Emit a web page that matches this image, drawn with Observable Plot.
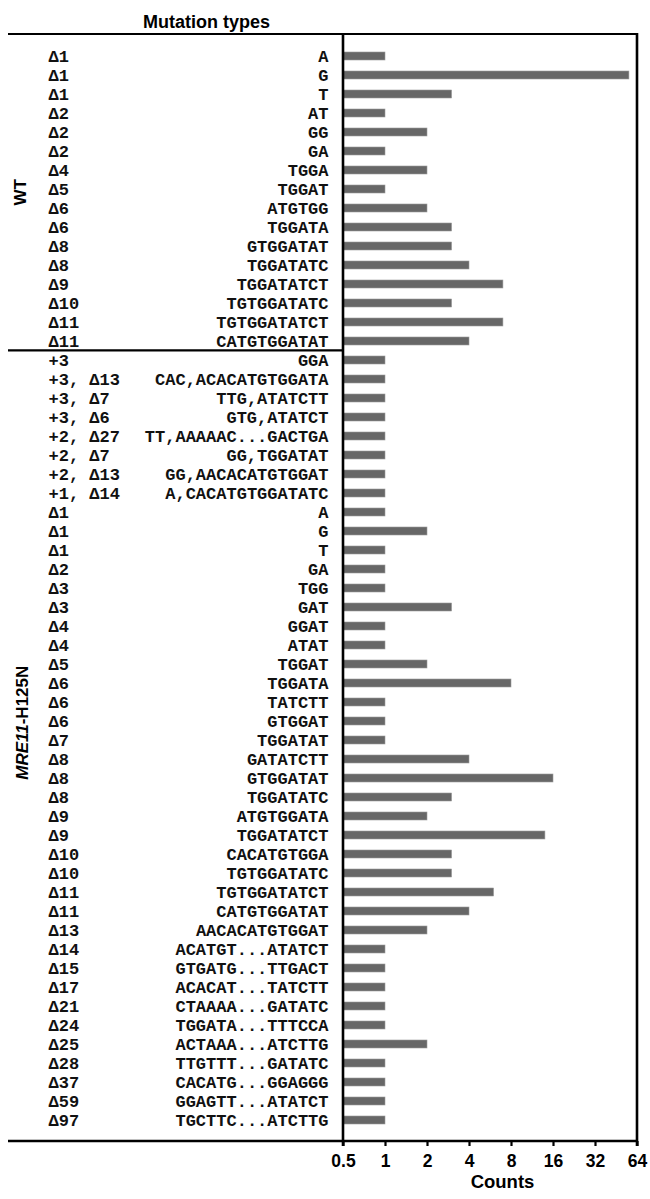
<!DOCTYPE html>
<html><head><meta charset="utf-8">
<script src="https://cdn.jsdelivr.net/npm/d3@7"></script>
<script src="https://cdn.jsdelivr.net/npm/@observablehq/plot@0.6"></script>
<style>
body{margin:0;background:#fff;}
#chart svg{display:block;}
g[aria-label="x-axis tick label"] text{font-family:"Liberation Sans",Arial,sans-serif;font-weight:bold;font-size:17.5px;fill:#000;}
</style></head><body><div id="chart"></div>
<script>
// ---- data ----
const wtMutations = ["Δ1","Δ1","Δ1","Δ2","Δ2","Δ2","Δ4","Δ5","Δ6","Δ6","Δ8","Δ8","Δ9","Δ10","Δ11","Δ11"];
const wtSequences = ["A","G","T","AT","GG","GA","TGGA","TGGAT","ATGTGG","TGGATA","GTGGATAT","TGGATATC","TGGATATCT","TGTGGATATC","TGTGGATATCT","CATGTGGATAT"];
const wtCounts = [1,56,3,1,2,1,2,1,2,3,3,4,7,3,7,4];

const mreMutations = ["+3","+3, Δ13","+3, Δ7","+3, Δ6","+2, Δ27","+2, Δ7","+2, Δ13","+1, Δ14",
  "Δ1","Δ1","Δ1","Δ2","Δ3","Δ3","Δ4","Δ4","Δ5","Δ6","Δ6","Δ6","Δ7","Δ8","Δ8","Δ8","Δ9","Δ9",
  "Δ10","Δ10","Δ11","Δ11","Δ13","Δ14","Δ15","Δ17","Δ21","Δ24","Δ25","Δ28","Δ37","Δ59","Δ97"];
const mreSequences = ["GGA","CAC,ACACATGTGGATA","TTG,ATATCTT","GTG,ATATCT","TT,AAAAAC...GACTGA","GG,TGGATAT","GG,AACACATGTGGAT","A,CACATGTGGATATC",
  "A","G","T","GA","TGG","GAT","GGAT","ATAT","TGGAT","TGGATA","TATCTT","GTGGAT","TGGATAT","GATATCTT","GTGGATAT","TGGATATC","ATGTGGATA","TGGATATCT",
  "CACATGTGGA","TGTGGATATC","TGTGGATATCT","CATGTGGATAT","AACACATGTGGAT","ACATGT...ATATCT","GTGATG...TTGACT","ACACAT...TATCTT","CTAAAA...GATATC","TGGATA...TTTCCA","ACTAAA...ATCTTG","TTGTTT...GATATC","CACATG...GGAGGG","GGAGTT...ATATCT","TGCTTC...ATCTTG"];
const mreCounts = [1,1,1,1,1,1,1,1,
  1,2,1,1,1,3,1,1,2,8,1,1,1,4,16,3,2,14,
  3,3,6,4,2,1,1,1,1,1,2,1,1,1,1];

const xTicks = [0.5,1,2,4,8,16,32,64];
const groupNames = ["WT","MRE11-H125N"];

// ---- table ----
const rows = [];
wtMutations.forEach((m,i)=>rows.push({group:groupNames[0],key:"WT-"+i,mutation:m,sequence:wtSequences[i],count:wtCounts[i]}));
mreMutations.forEach((m,i)=>rows.push({group:groupNames[1],key:"MRE-"+i,mutation:m,sequence:mreSequences[i],count:mreCounts[i]}));
const keys = rows.map(d=>d.key);
const PAD = 0.585;
const mono = "'Liberation Mono','DejaVu Sans Mono',monospace";
const sans = "'Liberation Sans',Arial,sans-serif";

function frame(index, scales, values, dims) {
  const {width, height, marginTop, marginRight, marginBottom, marginLeft} = dims;
  const x0 = marginLeft, x1 = width - marginRight, y0 = marginTop, y1 = height - marginBottom;
  const step = scales.y(keys[1]) - scales.y(keys[0]);
  const firstMre = rows.find(d=>d.group===groupNames[1]).key;
  const sep = scales.y(firstMre) - step*PAD/2;
  const lx = 8;
  const g = d3.create("svg:g").attr("stroke","#000").attr("fill","none");
  g.append("line").attr("x1",lx).attr("x2",x1+1).attr("y1",y0).attr("y2",y0).attr("stroke-width",2.2);
  g.append("line").attr("x1",lx).attr("x2",x0).attr("y1",sep).attr("y2",sep).attr("stroke-width",2.2);
  g.append("line").attr("x1",lx).attr("x2",x1+1).attr("y1",y1).attr("y2",y1).attr("stroke-width",2.4);
  g.append("line").attr("x1",x0).attr("x2",x0).attr("y1",y0-1).attr("y2",y1+5).attr("stroke-width",2.6);
  g.append("line").attr("x1",x1).attr("x2",x1).attr("y1",y0-1).attr("y2",y1+5).attr("stroke-width",2.6);
  // group labels
  const t = g.append("g").attr("stroke","none").attr("fill","#000")
    .attr("font-family",sans).attr("font-weight","bold").attr("font-size",17).attr("text-anchor","middle");
  const wtMid = (y0+sep)/2, mreMid = (sep+y1)/2 - 23;
  t.append("text").attr("transform",`translate(${lx+12},${wtMid}) rotate(-90)`).attr("dy","0.35em").text(groupNames[0]);
  const m = t.append("text").attr("transform",`translate(${lx+14},${mreMid}) rotate(-90)`).attr("dy","0.35em");
  m.append("tspan").attr("font-style","italic").text(groupNames[1].split("-")[0]);
  m.append("tspan").text("-"+groupNames[1].split("-").slice(1).join("-"));
  return g.node();
}

const chart = Plot.plot({
  width: 650, height: 1199,
  marginLeft: 343, marginRight: 13, marginTop: 34, marginBottom: 58,
  x: {type:"log", base: 2, domain:[xTicks[0], xTicks[xTicks.length-1]], label:null},
  y: {domain: keys, paddingInner: PAD, paddingOuter: PAD/2, axis: null},
  marks: [
    Plot.barX(rows, {x1: xTicks[0], x2: "count", y: "key", fill: "#676767", stroke:"#9a9a9a", strokeWidth:0.6}),
    Plot.text(rows, {y:"key", text:"sequence", frameAnchor:"left", textAnchor:"end", dx:-15,
      fontFamily: mono, fontWeight:"bold", fontSize:17, fill:"#111"}),
    Plot.text(rows, {y:"key", text:"mutation", frameAnchor:"left", textAnchor:"start", dx:-295,
      fontFamily: mono, fontWeight:"bold", fontSize:17, fill:"#111"}),
    Plot.axisX(xTicks, {tickSize:5, tickPadding:8, tickFormat: d=>String(d), strokeWidth:2.2, label:null}),
    Plot.text(["Mutation types"], {frameAnchor:"top-left", dx:-137, dy:-19, textAnchor:"middle",
      fontFamily: sans, fontWeight:"bold", fontSize:18}),
    Plot.text(["Counts"], {frameAnchor:"bottom", dx:12, dy:46, textAnchor:"middle",
      fontFamily: sans, fontWeight:"bold", fontSize:18.5}),
    frame
  ]
});
document.getElementById("chart").append(chart);
</script></body></html>
